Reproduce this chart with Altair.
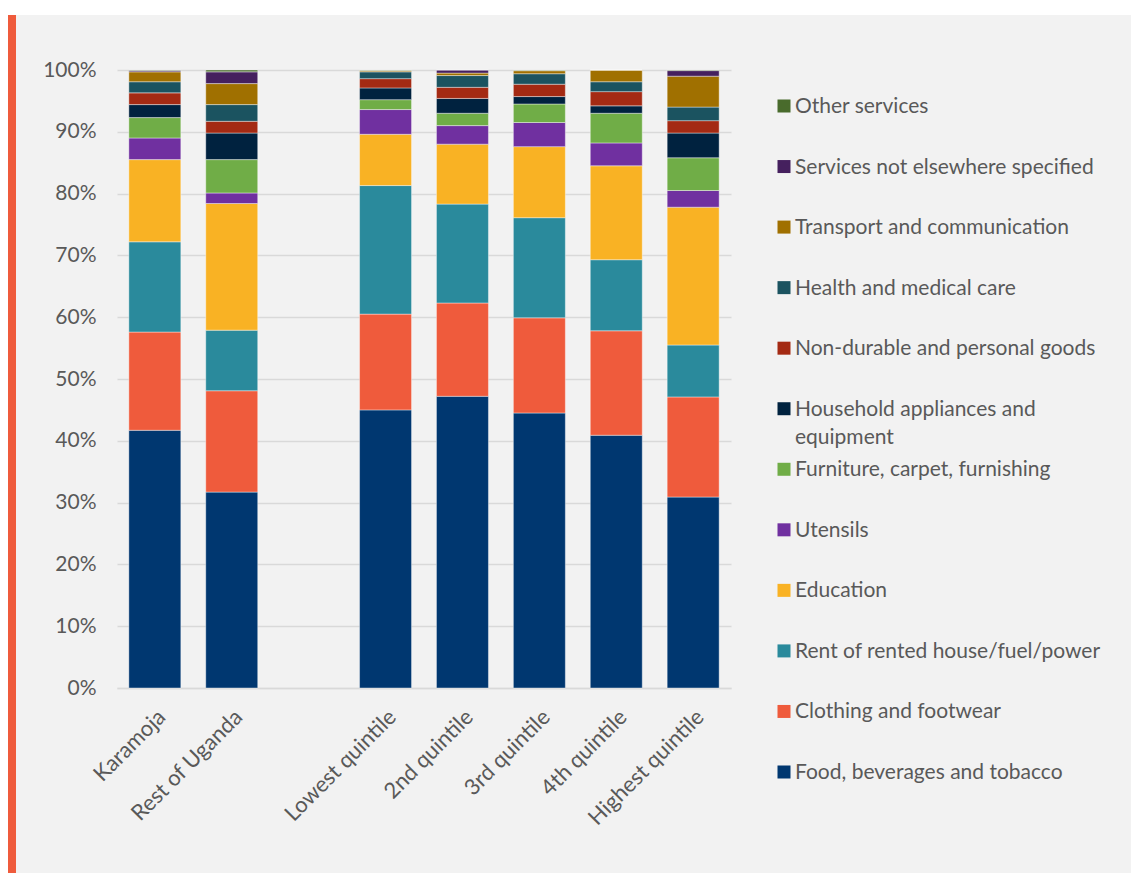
import altair as alt
import pandas as pd

groups = ["Karamoja", "Rest of Uganda", "Lowest quintile", "2nd quintile",
          "3rd quintile", "4th quintile", "Highest quintile"]
axis_domain = ["Karamoja", "Rest of Uganda", " ", "Lowest quintile", "2nd quintile",
               "3rd quintile", "4th quintile", "Highest quintile"]

categories = [
    "Food, beverages and tobacco",
    "Clothing and footwear",
    "Rent of rented house/fuel/power",
    "Education",
    "Utensils",
    "Furniture, carpet, furnishing",
    "Household appliances and equipment",
    "Non-durable and personal goods",
    "Health and medical care",
    "Transport and communication",
    "Services not elsewhere specified",
    "Other services",
]
legend_labels = [
    "Food, beverages and tobacco",
    "Clothing and footwear",
    "Rent of rented house/fuel/power",
    "Education",
    "Utensils",
    "Furniture, carpet, furnishing",
    "Household appliances and\nequipment",
    "Non-durable and personal goods",
    "Health and medical care",
    "Transport and communication",
    "Services not elsewhere specified",
    "Other services",
]
colors = ["#003770", "#EF5B3C", "#2A8A9C", "#F9B224", "#7030A0", "#70AD47",
          "#00223F", "#A42A13", "#1B5360", "#A07000", "#45205E", "#496B2C"]

# shares in percent, per group (same order as groups)
food = [41.7, 31.7, 45.0, 47.2, 44.5, 40.9, 30.9]
clothing = [15.9, 16.4, 15.5, 15.1, 15.4, 16.9, 16.2]
rent = [14.6, 9.8, 20.8, 16.0, 16.2, 11.5, 8.4]
education = [13.3, 20.5, 8.3, 9.7, 11.5, 15.2, 22.3]
utensils = [3.5, 1.7, 4.0, 3.0, 3.9, 3.7, 2.7]
furniture = [3.3, 5.4, 1.6, 2.0, 3.0, 4.8, 5.3]
household = [2.1, 4.3, 1.9, 2.4, 1.2, 1.2, 4.0]
nondurable = [1.9, 1.9, 1.5, 1.8, 2.0, 2.3, 2.0]
health = [1.8, 2.7, 1.1, 1.9, 1.7, 1.6, 2.2]
transport = [1.6, 3.4, 0.2, 0.4, 0.5, 1.9, 5.0]
services_nes = [0.2, 1.9, 0.0, 0.5, 0.0, 0.0, 0.9]
other = [0.1, 0.3, 0.1, 0.0, 0.1, 0.0, 0.1]

series = [food, clothing, rent, education, utensils, furniture, household,
          nondurable, health, transport, services_nes, other]

rows = []
for ci, (cat, vals) in enumerate(zip(categories, series)):
    for g, v in zip(groups, vals):
        rows.append({"group": g, "category": cat, "idx": ci, "value": v / 100.0})
df = pd.DataFrame(rows)

leg = pd.DataFrame({"category": categories, "label": legend_labels,
                    "idx": list(range(len(categories)))})

FONT = "Lato"
TXT = "#595959"
GRID = "#d9d9d9"

color_scale = alt.Scale(domain=categories, range=colors)

bars = alt.Chart(df).mark_bar(stroke="#ffffff", strokeWidth=0.8, strokeOpacity=0.5).encode(
    x=alt.X("group:N",
            scale=alt.Scale(domain=axis_domain, paddingInner=0.324, paddingOuter=0.154),
            axis=alt.Axis(title=None, labelAngle=-45, labelFontSize=22, labelFont=FONT,
                          labelColor=TXT, ticks=False, domainColor=GRID, domainWidth=1.5,
                          labelPadding=18, labelLimit=300)),
    y=alt.Y("value:Q", stack="zero",
            scale=alt.Scale(domain=[0, 1], nice=False),
            axis=alt.Axis(title=None, format=".0%",
                          values=[0, 0.1, 0.2, 0.3, 0.4, 0.5, 0.6, 0.7, 0.8, 0.9, 1.0],
                          grid=True, gridColor=GRID, gridWidth=1.5, domain=False,
                          ticks=False, labelPadding=21, labelFontSize=21,
                          labelFont=FONT, labelColor=TXT)),
    color=alt.Color("category:N", scale=color_scale, legend=None),
    order=alt.Order("idx:Q", sort="ascending"),
)

leg_y = alt.Y("category:N",
              scale=alt.Scale(type="point", domain=list(reversed(categories)),
                              range=[36, 702], padding=0),
              axis=None)

squares = alt.Chart(leg).mark_square(size=169, opacity=1).encode(
    x=alt.value(667), y=leg_y,
    color=alt.Color("category:N", scale=color_scale, legend=None),
)
texts = alt.Chart(leg).mark_text(align="left", baseline="top", dy=-10, fontSize=21,
                                 font=FONT, color=TXT, lineBreak="\n",
                                 lineHeight=28).encode(
    x=alt.value(678), y=leg_y, text="label:N",
)

deco = pd.DataFrame({"d": [0]})
top_strip = alt.Chart(deco).mark_rect(color="#ffffff").encode(
    x=alt.value(-117), x2=alt.value(1014), y=alt.value(-70), y2=alt.value(-55))
left_strip = alt.Chart(deco).mark_rect(color="#ffffff").encode(
    x=alt.value(-117), x2=alt.value(-109), y=alt.value(-70), y2=alt.value(803))
orange_bar = alt.Chart(deco).mark_rect(color="#EF5B3C").encode(
    x=alt.value(-109), x2=alt.value(-101), y=alt.value(-55), y2=alt.value(803))

chart = alt.layer(top_strip, left_strip, orange_bar, bars, squares, texts).resolve_scale(
    y="independent"
).properties(
    width=614, height=618,
    autosize=alt.AutoSizeParams(type="none"),
    padding={"left": 117, "top": 70, "right": 400, "bottom": 185},
    background="#f2f2f2",
).configure_view(stroke=None)

chart.save("out.html", embed_options={"renderer": "svg", "actions": False})
